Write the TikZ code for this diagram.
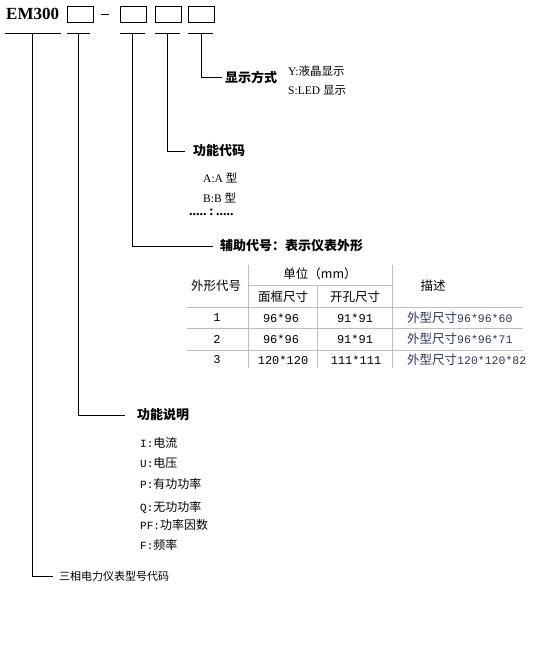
\documentclass[tikz,border=0pt]{standalone}
\usepackage{fontspec}
\setmainfont{Liberation Serif}
\newfontfamily\cjk{Noto Sans CJK SC}
\newfontfamily\monof{Liberation Mono}
\definecolor{descblue}{RGB}{40,55,95}
\definecolor{tgray}{RGB}{190,190,190}
\begin{document}
\begin{tikzpicture}[x=1pt,y=-1pt,
  lbl/.style={anchor=west, inner sep=0pt},
  head/.style={lbl, font=\cjk\bfseries\fontsize{13}{13}\selectfont},
  item/.style={lbl, font=\fontsize{11.5}{12}\selectfont},
  mitem/.style={lbl, font=\fontsize{12}{12}\selectfont},
  cell/.style={inner sep=0pt, font=\cjk\fontsize{12.5}{13}\selectfont},
  num/.style={inner sep=0pt, font=\monof\fontsize{12}{12}\selectfont},
  desc/.style={lbl, text=descblue, font=\fontsize{12.5}{13}\selectfont},
  codebox/.style={draw, line width=0.8pt, minimum width=26pt, minimum height=16pt, inner sep=0pt, anchor=north west},
  conn/.style={line width=0.8pt},
  tline/.style={tgray, line width=0.8pt}]
\useasboundingbox (0,0) rectangle (535,652);

% title row
\node[lbl, font=\bfseries\fontsize{17}{17}\selectfont] (em) at (6,14) {EM300};
\node[codebox] (b1) at (67,6) {};
\node[codebox, minimum width=26pt] (b2) at (119.5,6) {};
\node[codebox] (b3) at (154.5,6) {};
\node[codebox] (b4) at (188,6) {};
\draw[line width=0.9pt] (101,14) -- (109,14);

% underlines
\draw[conn] (5,33) -- (61,33);
\draw[conn] (67,33) -- (90,33);
\draw[conn] (120,33) -- (145,33);
\draw[conn] (155,33) -- (180,33);
\draw[conn] (188,33) -- (213,33);
\coordinate (u1) at (32,33);
\coordinate (u2) at (78,33);
\coordinate (u3) at (132,33);
\coordinate (u4) at (167,33);
\coordinate (u5) at (201,33);

% display mode
\node[head] (t5) at (225,77.5) {显示方式};
\draw[conn] (u5) |- ([xshift=-3pt]t5.west);
\node[item] (y1) at (288,71) {Y:{\cjk 液晶显示}};
\node[item] (y2) at (288,90) {S:LED {\cjk 显示}};

% function code
\node[head] (t4) at (193,151) {功能代码};
\draw[conn] (u4) |- ([xshift=-8pt]t4.west);
\node[item] (a1) at (203,178) {A:A {\cjk 型}};
\node[item] (a2) at (203,198) {B:B {\cjk 型}};
\node[lbl, font=\bfseries\fontsize{14}{14}\selectfont] (a3) at (189,212) {.....\,:\,.....};

% auxiliary code
\node[head] (t3) at (220,246) {辅助代号：表示仪表外形};
\draw[conn] (u3) |- ([xshift=-7pt]t3.west);

% table
\draw[tline] (248,285) -- (392,285);
\draw[tline] (187,307) -- (523,307);
\draw[tline] (187,328) -- (523,328);
\draw[tline] (187,350) -- (523,350);
\draw[tline] (248,265) -- (248,368);
\draw[tline] (392,265) -- (392,368);
\draw[tline] (317,285) -- (317,368);
\node[cell] (h1) at (216,286) {外形代号};
\node[cell] (h2) at (320,274) {单位（mm）};
\node[cell] (h3) at (283,297) {面框尺寸};
\node[cell] (h4) at (355,297) {开孔尺寸};
\node[cell] (h5) at (433,286) {描述};
\node[num] (r1a) at (217,318) {1};
\node[num] (r1b) at (281,318) {96*96};
\node[num] (r1c) at (355,318) {91*91};
\node[desc] (r1d) at (407,318) {{\cjk 外型尺寸}{\monof\fontsize{11.5}{12}\selectfont 96*96*60}};
\node[num] (r2a) at (217,339) {2};
\node[num] (r2b) at (281,339) {96*96};
\node[num] (r2c) at (355,339) {91*91};
\node[desc] (r2d) at (407,339) {{\cjk 外型尺寸}{\monof\fontsize{11.5}{12}\selectfont 96*96*71}};
\node[num] (r3a) at (217,360) {3};
\node[num] (r3b) at (283,360) {120*120};
\node[num] (r3c) at (356,360) {111*111};
\node[desc] (r3d) at (407,360) {{\cjk 外型尺寸}{\monof\fontsize{11.5}{12}\selectfont 120*120*82}};

% function description
\node[head] (t2) at (137,415) {功能说明};
\draw[conn] (u2) |- ([xshift=-12pt]t2.west);
\node[mitem] (f1) at (140,443) {{\monof\fontsize{11}{12}\selectfont I:}{\cjk 电流}};
\node[mitem] (f2) at (140,463) {{\monof\fontsize{11}{12}\selectfont U:}{\cjk 电压}};
\node[mitem] (f3) at (140,484) {{\monof\fontsize{11}{12}\selectfont P:}{\cjk 有功功率}};
\node[mitem] (f4) at (140,507) {{\monof\fontsize{11}{12}\selectfont Q:}{\cjk 无功功率}};
\node[mitem] (f5) at (140,525) {{\monof\fontsize{11}{12}\selectfont PF:}{\cjk 功率因数}};
\node[mitem] (f6) at (140,545) {{\monof\fontsize{11}{12}\selectfont F:}{\cjk 频率}};

% model code
\node[lbl, font=\cjk\fontsize{11}{11}\selectfont] (t1) at (59,576) {三相电力仪表型号代码};
\draw[conn] (u1) |- ([xshift=-6pt]t1.west);
\end{tikzpicture}
\end{document}
